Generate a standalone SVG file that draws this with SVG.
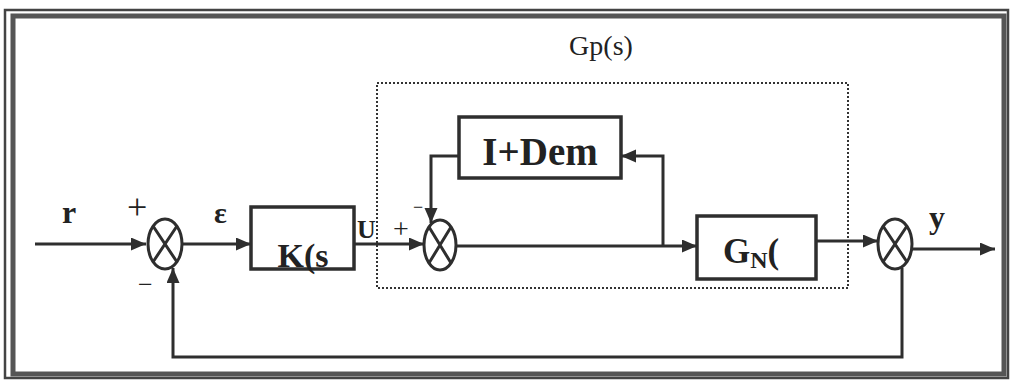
<svg xmlns="http://www.w3.org/2000/svg" width="1013" height="381" viewBox="0 0 1013 381">
<style>
.ln{fill:none;stroke:#2e2e2e;stroke-width:3}
.box{fill:#fff;stroke:#2e2e2e;stroke-width:3.5}
.sj{fill:#fff;stroke:#2e2e2e;stroke-width:3}
.tb{font-family:"Liberation Serif",serif;font-weight:bold;fill:#222}
.tn{font-family:"Liberation Serif",serif;fill:#222}
</style>
<defs>
<marker id="ah" markerUnits="userSpaceOnUse" markerWidth="16" markerHeight="14" refX="15" refY="6.5" orient="auto">
<path d="M0,0 L15,6.5 L0,13 z" fill="#2e2e2e"/>
</marker>
</defs>
<rect width="1013" height="381" fill="#fff"/>
<g id="frame">
<rect x="5" y="10" width="1003" height="368" fill="none" stroke="#444" stroke-width="2.5"/>
<rect x="13" y="16" width="991" height="358" fill="none" stroke="#555" stroke-width="5"/>
</g>
<g id="gp">
<rect x="377" y="83" width="471" height="205" fill="none" stroke="#333" stroke-width="2" stroke-dasharray="2,2"/>
<text class="tn" x="601" y="55" font-size="28" text-anchor="middle">Gp(s)</text>
</g>
<g id="connectors">
<path class="ln" d="M35,244 H146" marker-end="url(#ah)"/>
<path class="ln" d="M182,244 H251" marker-end="url(#ah)"/>
<path class="ln" d="M354,244 H424" marker-end="url(#ah)"/>
<path class="ln" d="M456,246 H697" marker-end="url(#ah)"/>
<path class="ln" d="M663,246 V156 H621" marker-end="url(#ah)"/>
<path class="ln" d="M459,156 H431 V223" marker-end="url(#ah)"/>
<path class="ln" d="M816,241 H878" marker-end="url(#ah)"/>
<path class="ln" d="M912,249 H995" marker-end="url(#ah)"/>
<path class="ln" d="M902,268 V357 H173 V268" marker-end="url(#ah)"/>
</g>
<g id="sum1">
<ellipse class="sj" cx="165" cy="244" rx="17" ry="25"/>
<path class="ln" d="M153,226 L177,262 M177,226 L153,262"/>
</g>
<g id="sum2">
<ellipse class="sj" cx="440" cy="245" rx="16" ry="25"/>
<path class="ln" d="M429,227 L451,263 M451,227 L429,263"/>
</g>
<g id="sum3">
<ellipse class="sj" cx="895" cy="244" rx="17" ry="25"/>
<path class="ln" d="M883,226 L907,262 M907,226 L883,262"/>
</g>
<g id="K">
<rect class="box" x="251" y="207" width="103" height="62"/>
<text class="tb" x="303" y="267" font-size="34" text-anchor="middle">K(s</text>
</g>
<g id="IDem">
<rect class="box" x="459" y="117" width="162" height="61"/>
<text class="tb" x="540" y="165" font-size="39" text-anchor="middle">I+Dem</text>
</g>
<g id="GN">
<rect class="box" x="697" y="216" width="119" height="63"/>
<text class="tb" x="723" y="263" font-size="35">G<tspan font-size="24" dy="5">N</tspan><tspan font-size="35" dy="-5">(</tspan></text>
</g>
<g id="labels">
<text class="tb" x="62" y="223" font-size="32">r</text>
<text class="tn" x="127" y="219" font-size="36">+</text>
<text class="tn" x="138" y="293" font-size="26">−</text>
<text class="tb" x="214" y="223" font-size="30">ε</text>
<text class="tb" x="357" y="238" font-size="26">U</text>
<text class="tn" x="413" y="213" font-size="18">−</text>
<text class="tn" x="393" y="238" font-size="28">+</text>
<text class="tb" x="929" y="228" font-size="32">y</text>
</g>
</svg>
